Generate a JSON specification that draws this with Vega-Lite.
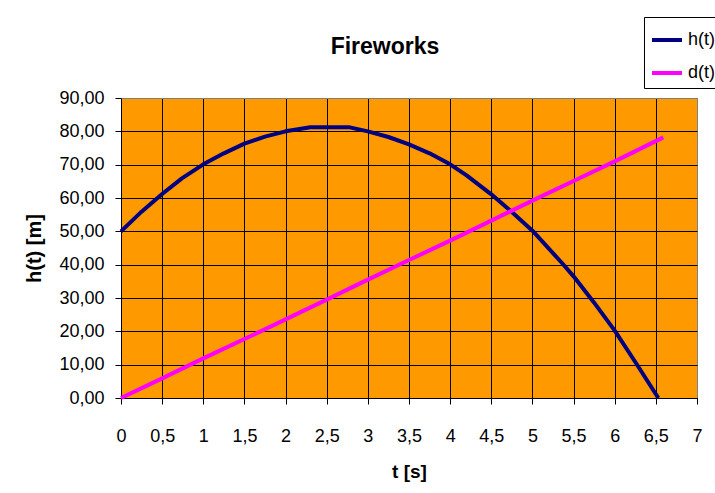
{
  "$schema": "https://vega.github.io/schema/vega-lite/v6.json",
  "autosize": "none",
  "width": 576,
  "height": 300,
  "padding": {"left": 121, "top": 98, "right": 18, "bottom": 95},
  "background": "white",
  "title": {
    "text": "Fireworks",
    "font": "Liberation Sans",
    "fontSize": 23,
    "fontWeight": "bold",
    "color": "black",
    "anchor": "middle",
    "baseline": "alphabetic",
    "dx": -24,
    "dy": 60,
    "offset": 0
  },
  "data": {
    "values": [
      {"series": "h(t)", "t": 0, "v": 50.0},
      {"series": "h(t)", "t": 0.25, "v": 55.9},
      {"series": "h(t)", "t": 0.5, "v": 61.2},
      {"series": "h(t)", "t": 0.74, "v": 65.9},
      {"series": "h(t)", "t": 1.0, "v": 70.1},
      {"series": "h(t)", "t": 1.25, "v": 73.4},
      {"series": "h(t)", "t": 1.5, "v": 76.3},
      {"series": "h(t)", "t": 1.75, "v": 78.4},
      {"series": "h(t)", "t": 2.0, "v": 80.0},
      {"series": "h(t)", "t": 2.3, "v": 81.2},
      {"series": "h(t)", "t": 2.78, "v": 81.2},
      {"series": "h(t)", "t": 3.0, "v": 80.0},
      {"series": "h(t)", "t": 3.25, "v": 78.3},
      {"series": "h(t)", "t": 3.5, "v": 76.1},
      {"series": "h(t)", "t": 3.75, "v": 73.4},
      {"series": "h(t)", "t": 4.0, "v": 70.1},
      {"series": "h(t)", "t": 4.2, "v": 66.8},
      {"series": "h(t)", "t": 4.5, "v": 61.1},
      {"series": "h(t)", "t": 4.75, "v": 55.8},
      {"series": "h(t)", "t": 5.0, "v": 50.2},
      {"series": "h(t)", "t": 5.37, "v": 40.2},
      {"series": "h(t)", "t": 5.5, "v": 36.5},
      {"series": "h(t)", "t": 5.75, "v": 28.6},
      {"series": "h(t)", "t": 6.0, "v": 20.2},
      {"series": "h(t)", "t": 6.25, "v": 10.8},
      {"series": "h(t)", "t": 6.53, "v": 0.0},
      {"series": "d(t)", "t": 0, "v": 0.0},
      {"series": "d(t)", "t": 0.5, "v": 5.9},
      {"series": "d(t)", "t": 1.0, "v": 11.9},
      {"series": "d(t)", "t": 1.5, "v": 17.7},
      {"series": "d(t)", "t": 2.0, "v": 23.6},
      {"series": "d(t)", "t": 2.5, "v": 29.5},
      {"series": "d(t)", "t": 3.0, "v": 35.5},
      {"series": "d(t)", "t": 3.5, "v": 41.4},
      {"series": "d(t)", "t": 4.0, "v": 47.2},
      {"series": "d(t)", "t": 4.5, "v": 53.2},
      {"series": "d(t)", "t": 5.0, "v": 59.2},
      {"series": "d(t)", "t": 5.5, "v": 65.1},
      {"series": "d(t)", "t": 6.0, "v": 71.0},
      {"series": "d(t)", "t": 6.59, "v": 78.2}
    ]
  },
  "mark": {"type": "line", "strokeWidth": 4, "strokeJoin": "round"},
  "encoding": {
    "x": {
      "field": "t",
      "type": "quantitative",
      "scale": {"domain": [0, 7], "nice": false, "zero": false},
      "axis": {
        "title": "t [s]",
        "values": [0, 0.5, 1, 1.5, 2, 2.5, 3, 3.5, 4, 4.5, 5, 5.5, 6, 6.5, 7],
        "labelExpr": "replace(toString(datum.value), '.', ',')",
        "labelFont": "Liberation Sans",
        "labelFontSize": 18,
        "labelColor": "black",
        "labelPadding": 23,
        "labelFlush": false,
        "labelOverlap": false,
        "tickSize": 6,
        "tickColor": "black",
        "domainColor": "black",
        "grid": true,
        "gridColor": {"condition": {"test": "datum.value == 7", "value": "#808080"}, "value": "black"},
        "gridWidth": 1,
        "gridOpacity": 1,
        "titleFont": "Liberation Sans",
        "titleFontSize": 19,
        "titleFontWeight": "bold",
        "titleColor": "black",
        "titlePadding": 17
      }
    },
    "y": {
      "field": "v",
      "type": "quantitative",
      "scale": {"domain": [0, 90], "nice": false},
      "axis": {
        "title": "h(t) [m]",
        "values": [0, 10, 20, 30, 40, 50, 60, 70, 80, 90],
        "labelExpr": "replace(format(datum.value, '.2f'), '.', ',')",
        "labelFont": "Liberation Sans",
        "labelFontSize": 18,
        "labelColor": "black",
        "labelPadding": 11,
        "labelFlush": false,
        "labelOverlap": false,
        "tickSize": 6,
        "tickColor": "black",
        "domainColor": "black",
        "grid": true,
        "gridColor": {"condition": {"test": "datum.value == 90", "value": "#808080"}, "value": "black"},
        "gridWidth": 1,
        "gridOpacity": 1,
        "titleFont": "Liberation Sans",
        "titleFontSize": 20,
        "titleFontWeight": "bold",
        "titleColor": "black",
        "titlePadding": 14
      }
    },
    "color": {
      "field": "series",
      "type": "nominal",
      "scale": {"domain": ["h(t)", "d(t)"], "range": ["#000080", "#FF00FF"]},
      "legend": {
        "title": null,
        "orient": "none",
        "legendX": 523,
        "legendY": -81,
        "strokeColor": "black",
        "fillColor": "white",
        "padding": 6,
        "symbolType": "stroke",
        "symbolSize": 900,
        "symbolStrokeWidth": 4,
        "labelFont": "Liberation Sans",
        "labelFontSize": 18,
        "labelColor": "black",
        "labelOffset": 4,
        "rowPadding": 7
      }
    }
  },
  "config": {
    "view": {"fill": "#FF9900", "stroke": "#808080", "strokeWidth": 1}
  }
}
